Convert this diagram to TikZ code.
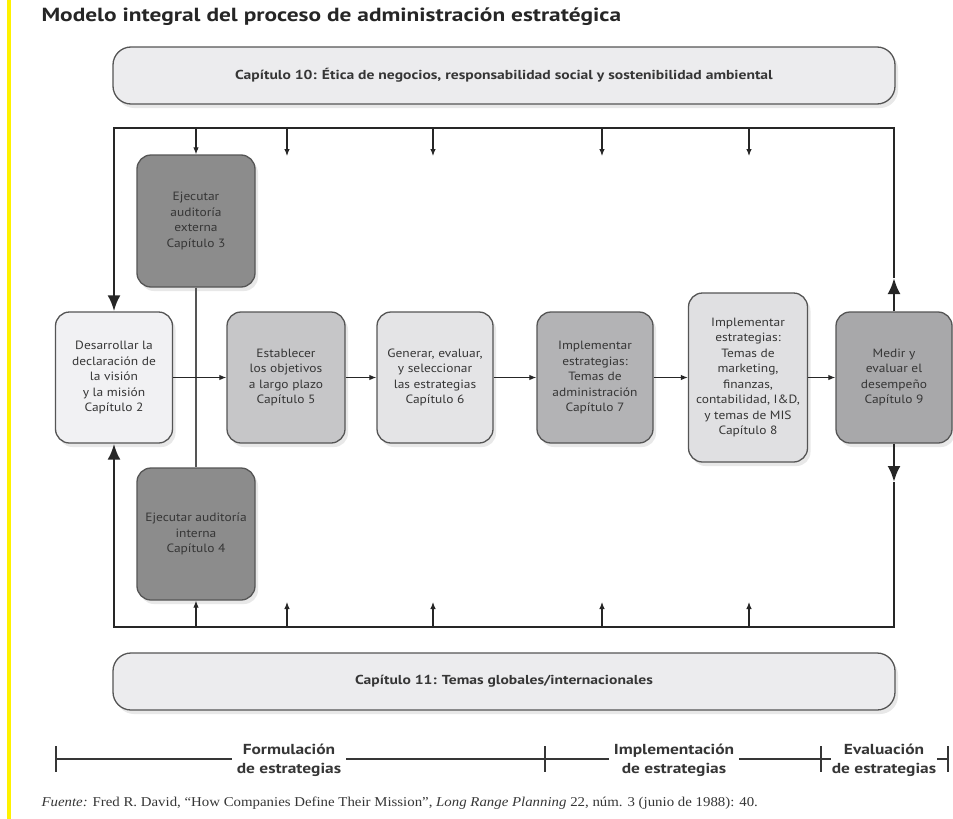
\documentclass[tikz,border=0pt]{standalone}
\usepackage{fontspec}
\setmainfont{PT Sans}
\newfontfamily\titlef[FakeStretch=1.23]{PT Sans}
\newfontfamily\bandf[FakeStretch=1.2]{PT Sans}
\newfontfamily\boxf[FakeStretch=1.12]{PT Sans}
\newfontfamily\srf[FakeStretch=1.1]{Liberation Serif}
\usetikzlibrary{arrows.meta,shadows}
\definecolor{boxline}{HTML}{555555}
\definecolor{txt}{HTML}{363636}
\definecolor{loopc}{HTML}{262626}
\definecolor{fA}{HTML}{F1F1F3}
\definecolor{fDark}{HTML}{8C8C8C}
\definecolor{fB}{HTML}{C6C6C8}
\definecolor{fC}{HTML}{E4E4E6}
\definecolor{fD}{HTML}{B3B3B5}
\definecolor{fE}{HTML}{E0E0E2}
\definecolor{fF}{HTML}{A8A8AA}
\definecolor{fBand}{HTML}{ECECEE}
\definecolor{sideyellow}{RGB}{255,242,0}
\begin{document}
\begin{tikzpicture}[x=1pt,y=-1pt,
  stepbox/.style={draw=boxline, line width=1.3pt, rounded corners=14pt, align=center,
    inner sep=0pt, text=txt, font=\boxf\fontsize{12}{15.5}\selectfont,
    drop shadow={opacity=0.18, shadow xshift=3pt, shadow yshift=-4pt}},
  band/.style={stepbox, rounded corners=18pt, fill=fBand, minimum width=782pt, minimum height=57pt,
    font=\bandf\bfseries\fontsize{13}{15}\selectfont},
  loopline/.style={draw=loopc, line width=2.8pt},
  bigtip/.style={loopline, -{Latex[length=16pt,width=13pt]}},
  smalltip/.style={draw=loopc, line width=1.1pt, -{Latex[length=7pt,width=5.5pt]}},
  phase/.style={fill=white, inner xsep=5pt, inner ysep=1pt, align=center, text=txt,
    font=\bandf\bfseries\fontsize{14.5}{19}\selectfont},
  tick/.style={draw=txt, line width=1.3pt}]
\useasboundingbox (0,0) rectangle (953,819);
\fill[white] (0,0) rectangle (953,819);
\fill[fill=sideyellow] (7,0) rectangle (11,819);

\node[anchor=west, font=\titlef\bfseries\fontsize{19}{22}\selectfont, text=black!85] (title) at (38,17)
  {Modelo integral del proceso de administración estratégica};

\node[band] (top) at (504,75.5) {Capítulo 10: Ética de negocios, responsabilidad social y sostenibilidad ambiental};
\node[band] (bot) at (504,681.5) {Capítulo 11: Temas globales/internacionales};

% loop corners
\coordinate (TL) at (114,128);
\coordinate (TR) at (894,128);
\coordinate (BL) at (114,627);
\coordinate (BR) at (894,627);

% boxes
\node[stepbox, fill=fA, minimum width=117pt, minimum height=131pt] (m2) at (114,377.5)
  {Desarrollar la\\declaración de\\la visión\\y la misión\\Capítulo 2};
\node[stepbox, fill=fDark, minimum width=118pt, minimum height=132pt] (m3) at (196,221)
  {Ejecutar\\auditoría\\externa\\Capítulo 3};
\node[stepbox, fill=fDark, minimum width=118pt, minimum height=132pt] (m4) at (196,534)
  {Ejecutar auditoría\\interna\\Capítulo 4};
\node[stepbox, fill=fB, minimum width=118pt, minimum height=131pt] (m5) at (286,377.5)
  {Establecer\\los objetivos\\a largo plazo\\Capítulo 5};
\node[stepbox, fill=fC, minimum width=116pt, minimum height=131pt] (m6) at (435,377.5)
  {Generar, evaluar,\\y seleccionar\\las estrategias\\Capítulo 6};
\node[stepbox, fill=fD, minimum width=116pt, minimum height=131pt] (m7) at (595,377.5)
  {Implementar\\estrategias:\\Temas de\\administración\\Capítulo 7};
\node[stepbox, fill=fE, minimum width=119pt, minimum height=169pt] (m8) at (748,377.5)
  {Implementar\\estrategias:\\Temas de\\marketing,\\finanzas,\\contabilidad, I\&D,\\y temas de MIS\\Capítulo 8};
\node[stepbox, fill=fF, minimum width=116pt, minimum height=131pt] (m9) at (894,377.5)
  {Medir y\\evaluar el\\desempeño\\Capítulo 9};

% external/internal audit link
\draw[draw=boxline, line width=1.3pt] (m3.south) -- (m4.north);

% main flow
\draw[smalltip] (m2.east) -- (m5.west);
\draw[smalltip] (m5.east) -- (m6.west);
\draw[smalltip] (m6.east) -- (m7.west);
\draw[smalltip] (m7.east) -- (m8.west);
\draw[smalltip] (m8.east) -- (m9.west);

% feedback loop
\coordinate (R1) at (894,278);
\coordinate (R2) at (894,482);
\draw[bigtip] (m9.north) -- (R1);
\draw[loopline] (R1) -- (TR) -- (TL) -- (114,200);
\draw[bigtip] (114,200) -- (m2.north);
\draw[bigtip] (m9.south) -- (R2);
\draw[loopline] (R2) -- (BR) -- (BL) -- (114,560);
\draw[bigtip] (114,560) -- (m2.south);

% small arrows from top and bottom lines
\coordinate (ta1) at (196,128);
\coordinate (ba1) at (196,627);
\foreach \x/\n in {287/2,433/3,602/4,749/5}{
  \coordinate (ta\n) at (\x,128);
  \coordinate (tb\n) at (\x,156);
  \coordinate (ba\n) at (\x,627);
  \coordinate (bb\n) at (\x,602);
}
\draw[smalltip] (ta1) -- (m3.north);
\draw[smalltip] (ba1) -- (m4.south);
\foreach \n in {2,3,4,5}{
  \draw[smalltip] (ta\n) -- (tb\n);
  \draw[smalltip] (ba\n) -- (bb\n);
}

% phases timeline
\coordinate (p0) at (56,759);
\coordinate (p1) at (545,759);
\coordinate (p2) at (821,759);
\coordinate (p3) at (948,759);
\draw[tick] (p0) -- (p3);
\node[phase] (f1) at (289,760) {Formulación\\de estrategias};
\node[phase] (f2) at (674,760) {Implementación\\de estrategias};
\node[phase, inner xsep=1pt] (f3) at (884,760) {Evaluación\\de estrategias};
\foreach \p in {p0,p1,p2,p3}{
  \draw[tick] ([yshift=13pt]\p) -- ([yshift=-13pt]\p);
}

\node[anchor=west, font=\srf\fontsize{13.5}{16}\selectfont, text=txt] (src) at (38,803)
  {\textit{Fuente:} Fred R. David, “How Companies Define Their Mission”, \textit{Long Range Planning} 22, núm. 3 (junio de 1988): 40.};
\end{tikzpicture}
\end{document}
